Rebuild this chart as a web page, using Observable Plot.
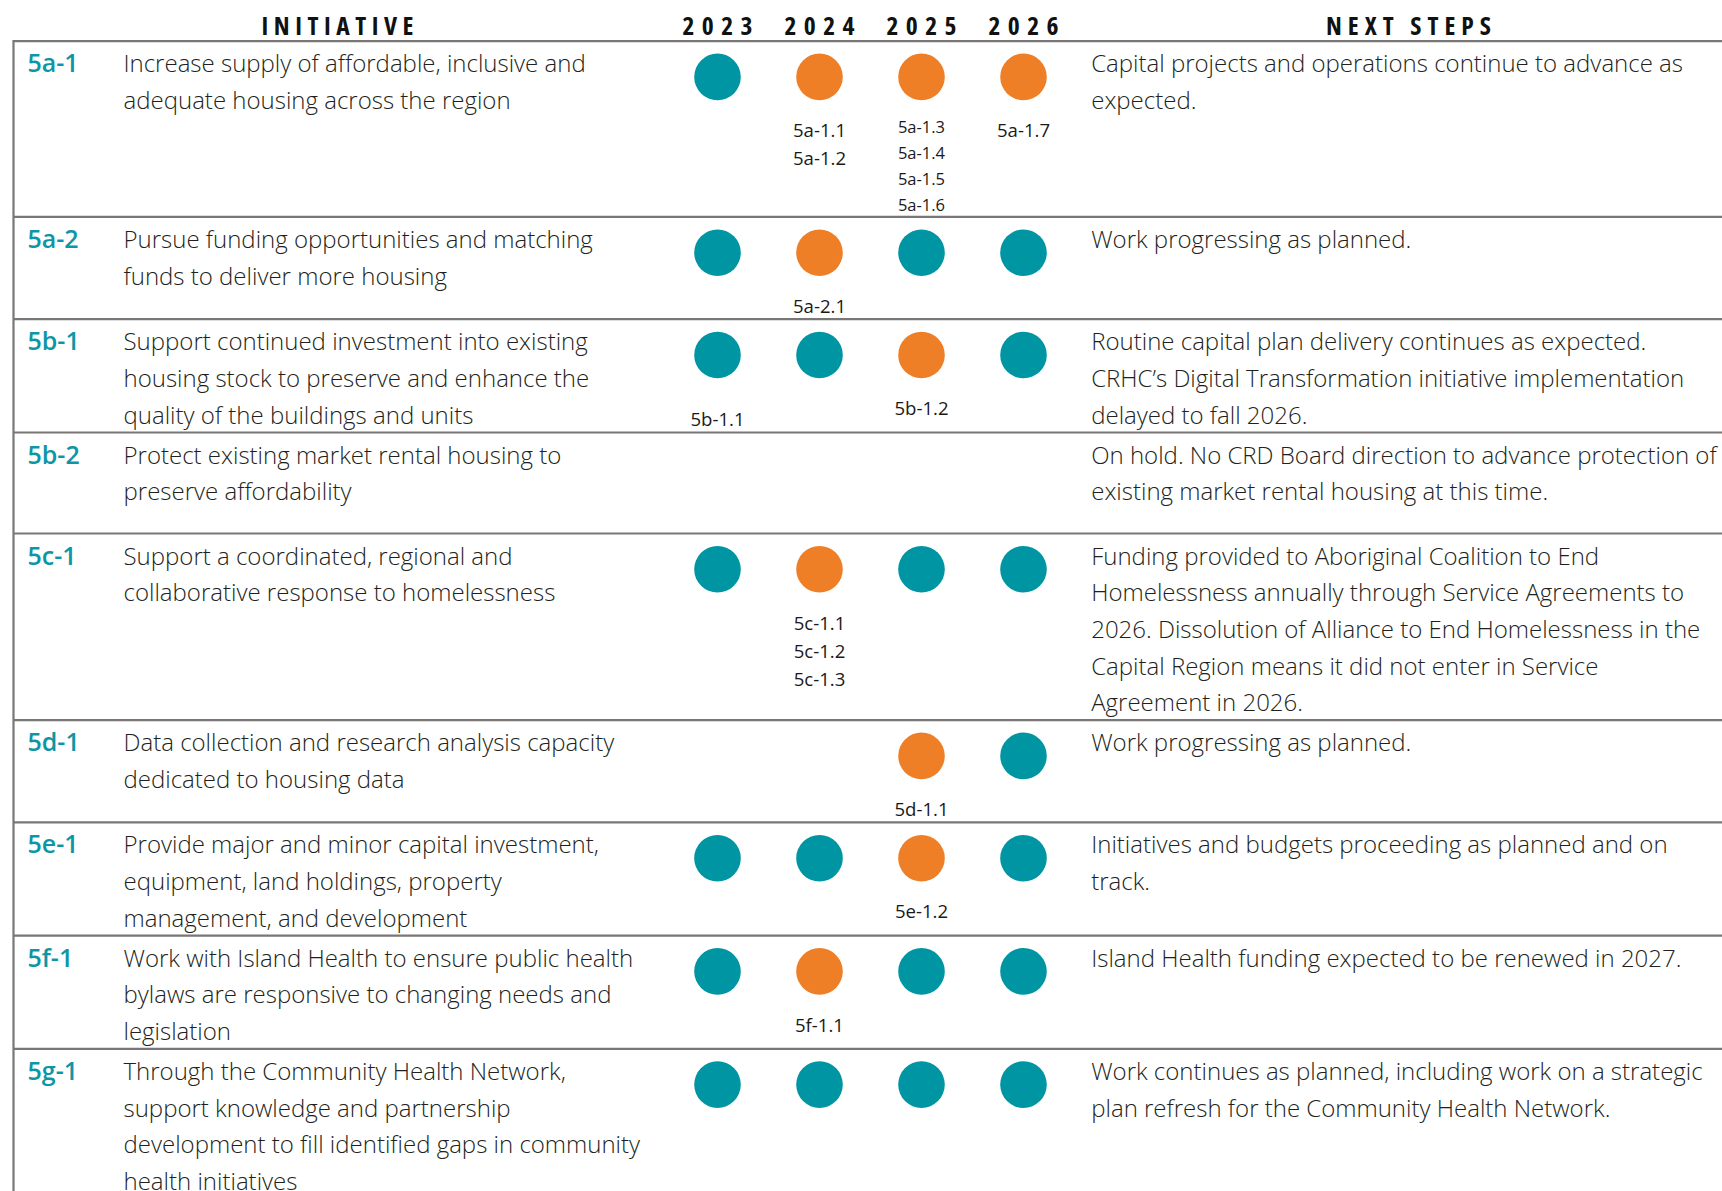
<!DOCTYPE html>
<html><head><meta charset="utf-8">
<script src="https://cdn.jsdelivr.net/npm/d3@7"></script>
<script src="https://cdn.jsdelivr.net/npm/@observablehq/plot@0.6"></script>
<style>
html,body{margin:0;padding:0;background:#fff;}
#chart svg{display:block;}
</style></head><body><div id="chart"></div>
<script>
// ---------------- DATA ----------------
const years = ["2023", "2024", "2025", "2026"];
const ids = ["5a-1", "5a-2", "5b-1", "5b-2", "5c-1", "5d-1", "5e-1", "5f-1", "5g-1"];
const initiativeLines = [
  ["Increase supply of affordable, inclusive and", "adequate housing across the region"],
  ["Pursue funding opportunities and matching", "funds to deliver more housing"],
  ["Support continued investment into existing", "housing stock to preserve and enhance the", "quality of the buildings and units"],
  ["Protect existing market rental housing to", "preserve affordability"],
  ["Support a coordinated, regional and", "collaborative response to homelessness"],
  ["Data collection and research analysis capacity", "dedicated to housing data"],
  ["Provide major and minor capital investment,", "equipment, land holdings, property", "management, and development"],
  ["Work with Island Health to ensure public health", "bylaws are responsive to changing needs and", "legislation"],
  ["Through the Community Health Network,", "support knowledge and partnership", "development to fill identified gaps in community", "health initiatives"]
];
const statusDomain = ["Ongoing", "Milestone"];
// per initiative, per year (2023..2026): 0 = teal (Ongoing), 1 = orange (Milestone), null = none
const yearStatus = [
  [0, 1, 1, 1],
  [0, 1, 0, 0],
  [0, 0, 1, 0],
  [null, null, null, null],
  [0, 1, 0, 0],
  [null, null, 1, 0],
  [0, 0, 1, 0],
  [0, 1, 0, 0],
  [0, 0, 0, 0]
];
const milestones = [
  [[], ["5a-1.1", "5a-1.2"], ["5a-1.3", "5a-1.4", "5a-1.5", "5a-1.6"], ["5a-1.7"]],
  [[], ["5a-2.1"], [], []],
  [["5b-1.1"], [], ["5b-1.2"], []],
  [[], [], [], []],
  [[], ["5c-1.1", "5c-1.2", "5c-1.3"], [], []],
  [[], [], ["5d-1.1"], []],
  [[], [], ["5e-1.2"], []],
  [[], ["5f-1.1"], [], []],
  [[], [], [], []]
];
const nextStepLines = [
  ["Capital projects and operations continue to advance as", "expected."],
  ["Work progressing as planned."],
  ["Routine capital plan delivery continues as expected.", "CRHC\u2019s Digital Transformation initiative implementation", "delayed to fall 2026."],
  ["On hold. No CRD Board direction to advance protection of", "existing market rental housing at this time."],
  ["Funding provided to Aboriginal Coalition to End", "Homelessness annually through Service Agreements to", "2026. Dissolution of Alliance to End Homelessness in the", "Capital Region means it did not enter in Service", "Agreement in 2026."],
  ["Work progressing as planned."],
  ["Initiatives and budgets proceeding as planned and on", "track."],
  ["Island Health funding expected to be renewed in 2027."],
  ["Work continues as planned, including work on a strategic", "plan refresh for the Community Health Network."]
];
const headerInitiative = "INITIATIVE";
const headerNext = "NEXT STEPS";

// ---------------- LAYOUT / STYLE ----------------
const W = 1722, H = 1191, HEADER = 40.6;
const X = {border: 13, id: 27, text: 123, next: 1090.7, year0: 716, year3: 1024.5, hInit: 337, hNext: 1408};
const LINE = 36.7, FIRST = 31, PADB = 8.8, MINH = 101;
const DOT_Y = 35.8, DOT_R = 23.3;
const LBL = {first: 96, step: 28.3, size: 18.6};
const LBLC = {first: 92.1, step: 25.8, size: 16.5};
const LBL_PAD = 6.3;
const labelShift = {"5b-1.1": 11};
const TEAL = "#0095a3", ORANGE = "#ef7f26", LINEC = "#7a7676", TXT = "#231f20", IDC = "#0d96a5";
const HEAD_SIZE = 25.5, BODY_SIZE = 24, ID_SIZE = 25;
const headStretch = "82%";
// header ink widths
const headTargets = {"INITIATIVE": 152, "NEXT STEPS": 165, "2023": 70, "2024": 70, "2025": 70, "2026": 70};

// ---------------- ROW GEOMETRY ----------------
let acc = 0;
const rows = ids.map((id, i) => {
  const nLines = Math.max(initiativeLines[i].length, nextStepLines[i].length);
  let lblBottom = 0;
  years.forEach((yr, j) => {
    const labs = milestones[i][j];
    const cfg = labs.length > 3 ? LBLC : LBL;
    labs.forEach((lab, k) => {
      lblBottom = Math.max(lblBottom, cfg.first + k * cfg.step + (labelShift[lab] || 0) + LBL_PAD);
    });
  });
  const h = Math.max(MINH, FIRST + (nLines - 1) * LINE + PADB, lblBottom);
  const r = {id, i, top: acc, h};
  acc += h;
  return r;
});

const initRecs = rows.flatMap(r => initiativeLines[r.i].map((t, k) => ({t, y: r.top + FIRST + k * LINE})));
const nextRecs = rows.flatMap(r => nextStepLines[r.i].map((t, k) => ({t, y: r.top + FIRST + k * LINE})));
const dotRecs = rows.flatMap(r => years.map((yr, j) => ({year: yr, s: yearStatus[r.i][j], y: r.top + DOT_Y}))
  .filter(d => d.s !== null).map(d => ({...d, status: statusDomain[d.s]})));
const lblRecs = rows.flatMap(r => years.flatMap((yr, j) => {
  const labs = milestones[r.i][j];
  const cfg = labs.length > 3 ? LBLC : LBL;
  return labs.map((lab, k) => ({year: yr, t: lab, size: cfg.size, y: r.top + cfg.first + k * cfg.step + (labelShift[lab] || 0)}));
}));

const bodyOpts = {fontFamily: "'Open Sans'", fontWeight: 300, fontSize: BODY_SIZE, fill: TXT, lineAnchor: "bottom", textAnchor: "start", frameAnchor: "left"};
const headOpts = {fontFamily: "'Open Sans'", fontWeight: 700, fontSize: HEAD_SIZE, fill: "#111", lineAnchor: "bottom", textAnchor: "middle"};

const plot = Plot.plot({
  width: W, height: H,
  marginTop: HEADER, marginLeft: X.border, marginRight: 0, marginBottom: 0,
  style: {background: "#fff", overflow: "visible"},
  x: {type: "point", domain: years, range: [X.year0, X.year3], padding: 0, axis: null},
  y: {type: "linear", domain: [0, H - HEADER], range: [HEADER, H], axis: null},
  color: {type: "ordinal", domain: statusDomain, range: [TEAL, ORANGE]},
  marks: [
    Plot.ruleY(rows.map(r => r.top), {stroke: LINEC, strokeWidth: 2.2}),
    Plot.frame({anchor: "left", stroke: LINEC, strokeWidth: 2.2}),
    // header
    Plot.text(years, {...headOpts, x: d => d, y: -6.6, text: d => d}),
    Plot.text([headerInitiative], {...headOpts, y: -6.6, text: d => d, frameAnchor: "left", dx: X.hInit - X.border}),
    Plot.text([headerNext], {...headOpts, y: -6.6, text: d => d, frameAnchor: "left", dx: X.hNext - X.border}),
    // ids
    Plot.text(rows, {y: r => r.top + FIRST, text: "id", frameAnchor: "left", dx: X.id - X.border,
      fontFamily: "'Open Sans'", fontWeight: 600, fontSize: ID_SIZE, fill: IDC, lineAnchor: "bottom", textAnchor: "start"}),
    // initiative text
    Plot.text(initRecs, {...bodyOpts, y: "y", text: "t", dx: X.text - X.border}),
    // next steps
    Plot.text(nextRecs, {...bodyOpts, y: "y", text: "t", dx: X.next - X.border}),
    // dots
    Plot.dot(dotRecs, {x: "year", y: "y", r: DOT_R, fill: "status", stroke: null}),
    // milestone labels
    Plot.text(lblRecs, {x: "year", y: "y", text: "t", fontSize: "size", fontFamily: "'Open Sans'", fontWeight: 400,
      fill: "#1a1a1a", lineAnchor: "bottom", textAnchor: "middle"})
  ]
});
document.getElementById("chart").appendChild(plot);

// condensed, letter-spaced header words (Plot has no letter-spacing option)
plot.querySelectorAll(`g[font-size="${HEAD_SIZE}"]`).forEach(g => {
  g.style.fontStretch = headStretch;
  g.querySelectorAll("text").forEach(t => {
    const str = t.textContent;
    const w = t.getComputedTextLength();
    const ls = Math.max(0, ((headTargets[str] || w) - w) / (str.length - 1));
    t.style.letterSpacing = ls + "px";
    t.setAttribute("dx", ls / 2);
  });
});
</script>
</body></html>
